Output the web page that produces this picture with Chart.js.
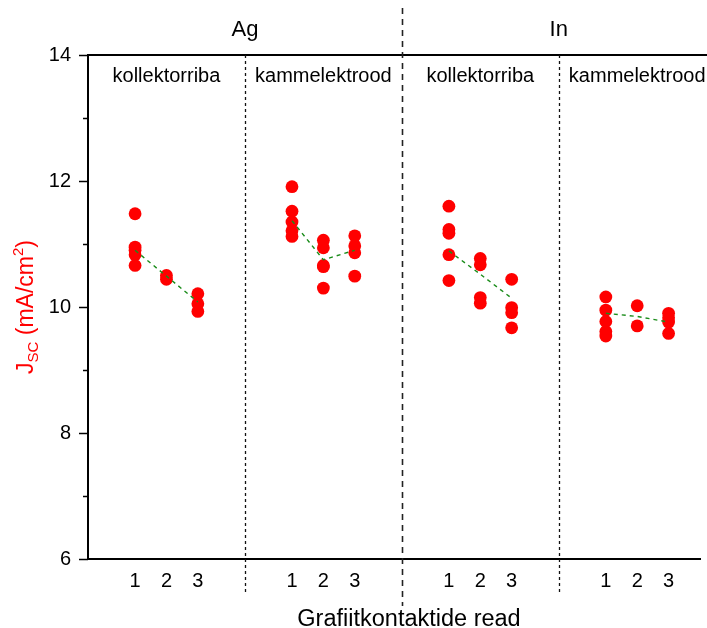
<!DOCTYPE html>
<html>
<head>
<meta charset="utf-8">
<script src="https://cdn.jsdelivr.net/npm/chart.js@4/dist/chart.umd.min.js"></script>
<style>
  html, body { margin: 0; padding: 0; background: #fff; overflow: hidden; }
  #wrap { width: 707px; height: 628px; position: relative; }
</style>
</head>
<body>
<div id="wrap"><canvas id="jsc-chart"></canvas></div>
<script>
// Jsc väärtused (mA/cm2) iga grafiitkontaktide rea kohta
var metals = ['Ag', 'In'];
var contactTypes = ['kollektorriba', 'kammelektrood'];
var rowLabels = ['1', '2', '3'];

var agCollector = [
  [11.48, 10.95, 10.90, 10.83, 10.66],
  [10.50, 10.44],
  [10.21, 10.05, 9.93]
];
var agComb = [
  [11.91, 11.52, 11.35, 11.21, 11.12],
  [11.06, 10.94, 10.66, 10.64, 10.30],
  [11.13, 10.97, 10.86, 10.49]
];
var inCollector = [
  [11.60, 11.23, 11.17, 10.83, 10.42],
  [10.77, 10.67, 10.15, 10.06],
  [10.44, 9.99, 9.91, 9.67]
];
var inComb = [
  [10.16, 9.95, 9.77, 9.61, 9.54],
  [10.02, 9.70],
  [9.90, 9.83, 9.76, 9.58]
];

// keskmised (roheline katkendjoon)
var agCollectorMean = [10.90, 10.49, 10.08];
var agCombMean = [11.37, 10.75, 10.90];
var inCollectorMean = [10.89, 10.52, 10.14];
var inCombMean = [9.90, 9.85, 9.76];

var yTicks = [6, 8, 10, 12, 14];

var groupValues = [agCollector, agComb, inCollector, inComb];
var groupMeans = [agCollectorMean, agCombMean, inCollectorMean, inCombMean];

var GROUP_W = 5;
function rowX(g, r) { return g * GROUP_W + r + 1.5; }

var datasets = [];
groupValues.forEach(function (rows, g) {
  var pts = [];
  rows.forEach(function (vals, r) {
    vals.forEach(function (v) { pts.push({x: rowX(g, r), y: v}); });
  });
  datasets.push({
    type: 'scatter',
    data: pts,
    backgroundColor: '#ff0000',
    borderWidth: 0,
    pointRadius: 6.4,
    order: 1
  });
});
groupMeans.forEach(function (means, g) {
  datasets.push({
    type: 'line',
    data: means.map(function (v, r) { return {x: rowX(g, r), y: v}; }),
    borderColor: '#1a8c1a',
    borderWidth: 1.4,
    borderDash: [4, 4],
    pointRadius: 0,
    fill: false,
    tension: 0,
    order: 0
  });
});

var FONT = '"Liberation Sans", Arial, sans-serif';

var decorations = {
  id: 'decorations',
  afterDraw: function (chart) {
    var ctx = chart.ctx;
    var xs = chart.scales.x, ys = chart.scales.y;
    var area = chart.chartArea;
    ctx.save();

    // ülemine raamjoon kuni lõuendi servani
    ctx.strokeStyle = '#000';
    ctx.lineWidth = 2;
    ctx.beginPath();
    ctx.moveTo(area.left - 1, area.top);
    ctx.lineTo(chart.width, area.top);
    ctx.stroke();

    // y-telje kriipsud: suured paarisarvudel, väikesed vahel
    ctx.lineWidth = 1.5;
    for (var v = ys.min; v <= ys.max; v++) {
      var py = Math.round(ys.getPixelForValue(v)) + 0.5;
      var len = (v % 2 === 0) ? 9 : 5;
      ctx.beginPath();
      ctx.moveTo(area.left - len, py);
      ctx.lineTo(area.left, py);
      ctx.stroke();
    }

    // eraldusjooned
    ctx.lineWidth = 1.3;
    ctx.strokeStyle = '#111';
    [GROUP_W, 3 * GROUP_W].forEach(function (xv) {
      var px = Math.round(xs.getPixelForValue(xv)) + 0.5;
      ctx.setLineDash([3, 3]);
      ctx.beginPath();
      ctx.moveTo(px, area.top);
      ctx.lineTo(px, 595);
      ctx.stroke();
    });
    var mid = Math.round(xs.getPixelForValue(2 * GROUP_W)) + 0.5;
    ctx.lineWidth = 1.6;
    ctx.strokeStyle = '#222';
    ctx.setLineDash([6, 5]);
    ctx.beginPath();
    ctx.moveTo(mid, 8);
    ctx.lineTo(mid, 606);
    ctx.stroke();
    ctx.setLineDash([]);

    // metalli ja kontaktitüübi sildid
    ctx.fillStyle = '#000';
    ctx.textAlign = 'center';
    ctx.textBaseline = 'middle';
    ctx.font = '22px ' + FONT;
    metals.forEach(function (m, i) {
      ctx.fillText(m, xs.getPixelForValue((2 * i + 1) * GROUP_W), 30);
    });
    ctx.textBaseline = 'alphabetic';
    ctx.font = '20px ' + FONT;
    for (var g = 0; g < 4; g++) {
      ctx.fillText(contactTypes[g % 2], xs.getPixelForValue(g * GROUP_W + GROUP_W / 2), 82);
    }

    // x-telje pealkiri
    ctx.font = '23.5px ' + FONT;
    ctx.fillText('Grafiitkontaktide read', 409, 626);

    // y-telje pealkiri alaindeksi ja astmega
    ctx.translate(33, 307);
    ctx.rotate(-Math.PI / 2);
    ctx.fillStyle = '#ff0000';
    ctx.textAlign = 'left';
    var big = '23px ' + FONT, small = '15px ' + FONT;
    var parts = [
      {t: 'J', f: big, dy: 0},
      {t: 'SC', f: small, dy: 5},
      {t: ' (mA/cm', f: big, dy: 0},
      {t: '2', f: small, dy: -10},
      {t: ')', f: big, dy: 0}
    ];
    var total = 0;
    parts.forEach(function (p) { ctx.font = p.f; p.w = ctx.measureText(p.t).width; total += p.w; });
    var cx = -total / 2;
    parts.forEach(function (p) {
      ctx.font = p.f;
      ctx.fillText(p.t, cx, p.dy);
      cx += p.w;
    });
    ctx.restore();
  }
};

var xTickPositions = [];
for (var g = 0; g < 4; g++) {
  rowLabels.forEach(function (lbl, r) { xTickPositions.push(rowX(g, r)); });
}

new Chart(document.getElementById('jsc-chart'), {
  data: { datasets: datasets },
  options: {
    responsive: true,
    maintainAspectRatio: false,
    animation: false,
    layout: { padding: { top: 55, right: 0, bottom: 0, left: 0 } },
    plugins: { legend: { display: false }, tooltip: { enabled: false } },
    scales: {
      x: {
        type: 'linear',
        min: 0,
        max: 19.52,
        afterBuildTicks: function (scale) {
          scale.ticks = xTickPositions.map(function (v) { return {value: v}; });
        },
        afterFit: function (scale) {
          scale.height = 69;
          scale.paddingLeft = 0;
          scale.paddingRight = 0;
        },
        grid: { display: false, drawTicks: false },
        border: { display: true, color: '#000', width: 2 },
        ticks: {
          autoSkip: false,
          maxRotation: 0,
          padding: 10,
          color: '#000',
          font: { family: FONT, size: 20 },
          callback: function (value) {
            var r = Math.round((value - 1.5) % GROUP_W);
            return rowLabels[r];
          }
        }
      },
      y: {
        type: 'linear',
        min: 6,
        max: 14,
        afterBuildTicks: function (scale) {
          scale.ticks = yTicks.map(function (v) { return {value: v}; });
        },
        afterFit: function (scale) { scale.width = 88; },
        grid: { display: false, drawTicks: false },
        border: { display: true, color: '#000', width: 2 },
        ticks: {
          padding: 17,
          color: '#000',
          font: { family: FONT, size: 20 }
        }
      }
    }
  },
  plugins: [decorations]
});
</script>
</body>
</html>
